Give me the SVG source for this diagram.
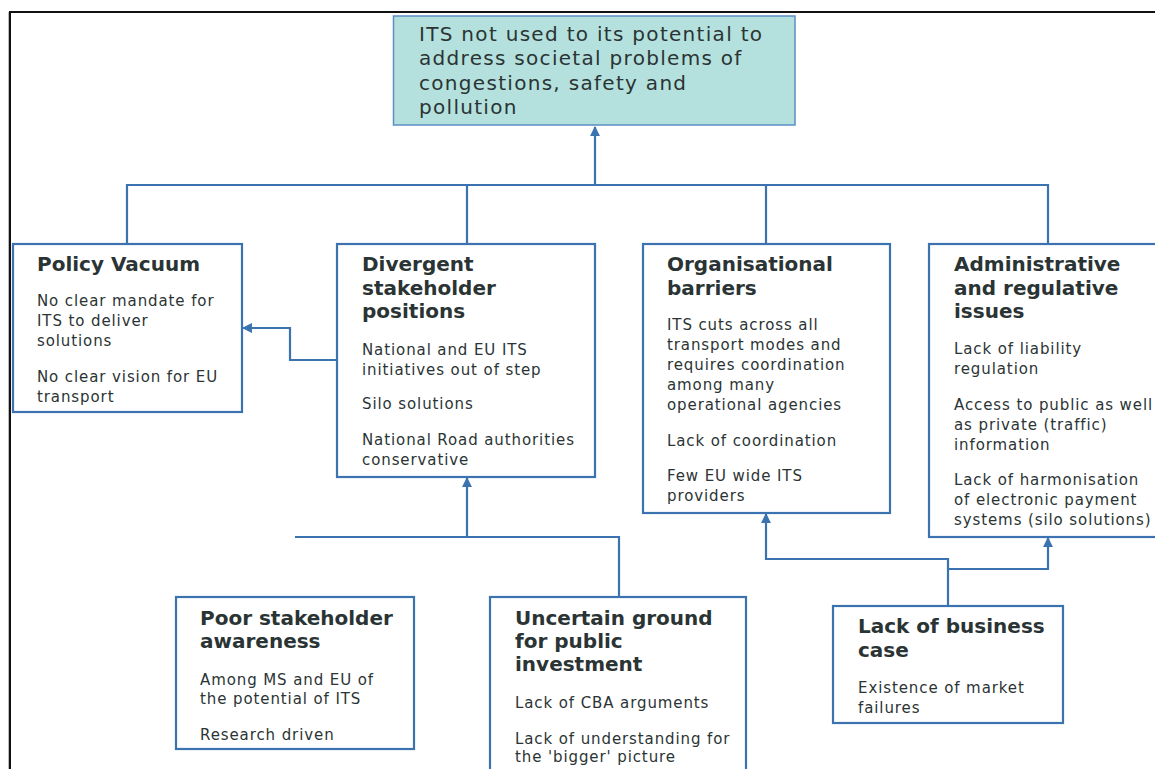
<svg xmlns="http://www.w3.org/2000/svg" width="1155" height="769" viewBox="0 0 1155 769">
<defs>
<marker id="ah" viewBox="0 0 10 10" refX="9" refY="5" markerWidth="4.5" markerHeight="4.5" orient="auto" markerUnits="strokeWidth">
<path d="M0,0 L10,5 L0,10 Z" fill="#3a73b0"/>
</marker>
<style>
.box{fill:#ffffff;stroke:#3a73b0;stroke-width:2.2}
.top{fill:#b4e1dd;stroke:#5a8fc4;stroke-width:1.5}
.ln{fill:none;stroke:#3a73b0;stroke-width:2.2}
.t{font-family:"DejaVu Sans",Verdana,sans-serif;font-size:20px;font-weight:bold;fill:#2b3434}
.b{font-family:"DejaVu Sans",Verdana,sans-serif;font-size:15px;letter-spacing:0.9px;fill:#2b3434}
.h{font-family:"DejaVu Sans",Verdana,sans-serif;font-size:20px;letter-spacing:1.3px;fill:#2b3434}
</style>
</defs>
<rect width="1155" height="769" fill="#ffffff"/>
<g id="frame">
<line x1="8.5" y1="12" x2="8.5" y2="769" stroke="#bbbbbb" stroke-width="1"/>
<path d="M10,769 V12 H1155" fill="none" stroke="#111111" stroke-width="2"/>
</g>
<g id="connectors">
<path class="ln" d="M127,243 V185 H1048 V243"/>
<path class="ln" d="M467,185 V243"/>
<path class="ln" d="M766,185 V243"/>
<path class="ln" d="M595,185 V127" marker-end="url(#ah)"/>
<path class="ln" d="M337,360 H290 V328 H243" marker-end="url(#ah)"/>
<path class="ln" d="M295,537 H619 V597"/>
<path class="ln" d="M467,537 V478" marker-end="url(#ah)"/>
<path class="ln" d="M948,606 V559 H766 V514" marker-end="url(#ah)"/>
<path class="ln" d="M948,569 H1048 V538" marker-end="url(#ah)"/>
</g>
<g id="n-top">
<rect class="top" x="393.5" y="16" width="401.5" height="109"/>
<text class="h" x="419" y="41">ITS not used to its potential to</text>
<text class="h" x="419" y="65">address societal problems of</text>
<text class="h" x="419" y="90">congestions, safety and</text>
<text class="h" x="419" y="114">pollution</text>
</g>
<g id="n-policy">
<rect class="box" x="13" y="244" width="229" height="168"/>
<text class="t" x="37" y="271">Policy Vacuum</text>
<text class="b" x="37" y="306">No clear mandate for</text>
<text class="b" x="37" y="326">ITS to deliver</text>
<text class="b" x="37" y="346">solutions</text>
<text class="b" x="37" y="382">No clear vision for EU</text>
<text class="b" x="37" y="402">transport</text>
</g>
<g id="n-divergent">
<rect class="box" x="337" y="244" width="258" height="233"/>
<text class="t" x="362" y="271">Divergent</text>
<text class="t" x="362" y="295">stakeholder</text>
<text class="t" x="362" y="318">positions</text>
<text class="b" x="362" y="355">National and EU ITS</text>
<text class="b" x="362" y="375">initiatives out of step</text>
<text class="b" x="362" y="409">Silo solutions</text>
<text class="b" x="362" y="445">National Road authorities</text>
<text class="b" x="362" y="465">conservative</text>
</g>
<g id="n-org">
<rect class="box" x="643" y="244" width="247" height="269"/>
<text class="t" x="667" y="271">Organisational</text>
<text class="t" x="667" y="295">barriers</text>
<text class="b" x="667" y="330">ITS cuts across all</text>
<text class="b" x="667" y="350">transport modes and</text>
<text class="b" x="667" y="370">requires coordination</text>
<text class="b" x="667" y="390">among many</text>
<text class="b" x="667" y="410">operational agencies</text>
<text class="b" x="667" y="446">Lack of coordination</text>
<text class="b" x="667" y="481">Few EU wide ITS</text>
<text class="b" x="667" y="501">providers</text>
</g>
<g id="n-admin">
<rect class="box" x="929" y="244" width="240" height="293"/>
<text class="t" x="954" y="271">Administrative</text>
<text class="t" x="954" y="295">and regulative</text>
<text class="t" x="954" y="318">issues</text>
<text class="b" x="954" y="354">Lack of liability</text>
<text class="b" x="954" y="374">regulation</text>
<text class="b" x="954" y="410">Access to public as well</text>
<text class="b" x="954" y="430">as private (traffic)</text>
<text class="b" x="954" y="450">information</text>
<text class="b" x="954" y="485">Lack of harmonisation</text>
<text class="b" x="954" y="505">of electronic payment</text>
<text class="b" x="954" y="525">systems (silo solutions)</text>
</g>
<g id="n-poor">
<rect class="box" x="176" y="597" width="238" height="152"/>
<text class="t" x="200" y="625">Poor stakeholder</text>
<text class="t" x="200" y="648">awareness</text>
<text class="b" x="200" y="685">Among MS and EU of</text>
<text class="b" x="200" y="704">the potential of ITS</text>
<text class="b" x="200" y="740">Research driven</text>
</g>
<g id="n-uncertain">
<rect class="box" x="490" y="597" width="256" height="190"/>
<text class="t" x="515" y="625">Uncertain ground</text>
<text class="t" x="515" y="648">for public</text>
<text class="t" x="515" y="671">investment</text>
<text class="b" x="515" y="708">Lack of CBA arguments</text>
<text class="b" x="515" y="744">Lack of understanding for</text>
<text class="b" x="515" y="762">the 'bigger' picture</text>
</g>
<g id="n-business">
<rect class="box" x="833" y="606" width="230" height="117"/>
<text class="t" x="858" y="633">Lack of business</text>
<text class="t" x="858" y="657">case</text>
<text class="b" x="858" y="693">Existence of market</text>
<text class="b" x="858" y="713">failures</text>
</g>
</svg>
